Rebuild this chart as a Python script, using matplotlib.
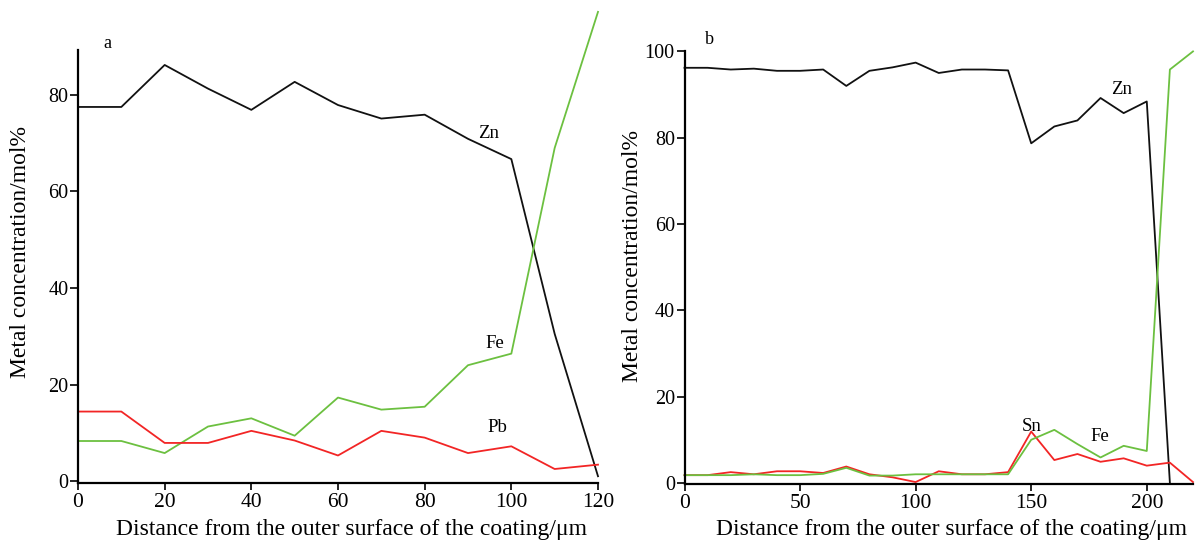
import matplotlib
matplotlib.use("Agg")
import matplotlib.pyplot as plt

plt.rcParams['font.family'] = ['Liberation Serif', 'DejaVu Serif']

# Panel a
x_a = [0, 10, 20, 30, 40, 50, 60, 70, 80, 90, 100, 110, 120]
zn_a = [77.5, 77.5, 86.2, 81.3, 76.9, 82.7, 77.9, 75.1, 75.9, 70.9, 66.7, 30.5, 1.0]
fe_a = [8.3, 8.3, 5.8, 11.3, 13.0, 9.4, 17.3, 14.8, 15.4, 24.0, 26.4, 69.0, 97.2]
pb_a = [14.4, 14.4, 7.9, 7.9, 10.4, 8.4, 5.3, 10.4, 9.0, 5.8, 7.2, 2.5, 3.4]

# Panel b
x_b = [0, 10, 20, 30, 40, 50, 60, 70, 80, 90, 100, 110, 120, 130, 140, 150,
       160, 170, 180, 190, 200, 210, 220]
zn_b = [96.2, 96.2, 95.8, 96.0, 95.5, 95.5, 95.8, 92.0, 95.5, 96.3, 97.4, 95.0,
        95.8, 95.8, 95.6, 78.7, 82.6, 84.0, 89.2, 85.7, 88.4, 0.0]
fe_b = [1.8, 1.8, 1.8, 2.0, 1.8, 1.8, 2.1, 3.5, 1.7, 1.7, 2.0, 2.0, 2.0, 2.0,
        2.0, 10.0, 12.3, 9.0, 5.9, 8.6, 7.4, 95.8, 100.0]
sn_b = [1.8, 1.8, 2.5, 2.0, 2.7, 2.7, 2.3, 3.8, 2.0, 1.3, 0.2, 2.7, 2.0, 2.0,
        2.5, 11.9, 5.3, 6.7, 4.9, 5.7, 4.0, 4.7, 0.2]

ticks_xa = [0, 20, 40, 60, 80, 100, 120]
ticks_ya = [0, 20, 40, 60, 80]
ticks_xb = [0, 50, 100, 150, 200]
ticks_yb = [0, 20, 40, 60, 80, 100]

black = '#111111'
green = '#6cc040'
red = '#f22525'

fig = plt.figure(figsize=(11.97, 5.44), dpi=100)
W, H = 1197, 544

def make_ax(l, r, t, b):
    return fig.add_axes([l / W, 1 - b / H, (r - l) / W, (b - t) / H])

axa = make_ax(78, 598, 50, 483)
axb = make_ax(684.5, 1193, 51.4, 484)

for ax in (axa, axb):
    for s in ('top', 'right'):
        ax.spines[s].set_visible(False)
    for s in ('left', 'bottom'):
        ax.spines[s].set_linewidth(1.6)
        ax.spines[s].set_color('black')
    ax.tick_params(axis='y', direction='out', length=6, width=1.2, labelsize=14.5, pad=1)
    ax.tick_params(axis='x', direction='out', length=5, width=1.2, labelsize=15.5, pad=2)

lw = 1.3
axa.plot(x_a, zn_a, color=black, lw=lw, clip_on=False)
axa.plot(x_a, fe_a, color=green, lw=lw, clip_on=False)
axa.plot(x_a, pb_a, color=red, lw=lw, clip_on=False)
axa.set_xlim(0, 120)
axa.set_ylim(-0.4, 89.3)
axa.set_xticks(ticks_xa)
axa.set_yticks(ticks_ya)

axb.plot(x_b[:len(zn_b)], zn_b, color=black, lw=lw, clip_on=False)
axb.plot(x_b, sn_b, color=red, lw=lw, clip_on=False)
axb.plot(x_b, fe_b, color=green, lw=lw, clip_on=False)
axb.set_xlim(0, 220)
axb.set_ylim(-0.25, 100)
axb.set_xticks(ticks_xb)
axb.set_yticks(ticks_yb)

ts = 13.5
axa.text(94.8, 72.1, 'Zn', fontsize=ts, ha='center', va='center')
axa.text(96.2, 28.6, 'Fe', fontsize=ts, ha='center', va='center')
axa.text(96.7, 11.0, 'Pb', fontsize=ts, ha='center', va='center')
axb.text(189, 91.1, 'Zn', fontsize=ts, ha='center', va='center')
axb.text(150.2, 13.0, 'Sn', fontsize=ts, ha='center', va='center')
axb.text(179.5, 10.7, 'Fe', fontsize=ts, ha='center', va='center')

fig.text(107 / W, 1 - 43 / H, 'a', fontsize=13, ha='center', va='center')
fig.text(709 / W, 1 - 40 / H, 'b', fontsize=13, ha='center', va='center')

xl = 'Distance from the outer surface of the coating/μm'
yl = 'Metal concentration/mol%'
ls = 17
fig.text(351 / W, 1 - 530 / H, xl, fontsize=ls, ha='center', va='center')
fig.text(951 / W, 1 - 530 / H, xl, fontsize=ls, ha='center', va='center')
fig.text(21 / W, 1 - 252 / H, yl, fontsize=ls, ha='center', va='center', rotation=90)
fig.text(632 / W, 1 - 256 / H, yl, fontsize=ls, ha='center', va='center', rotation=90)

fig.savefig('out.png', dpi=100)
